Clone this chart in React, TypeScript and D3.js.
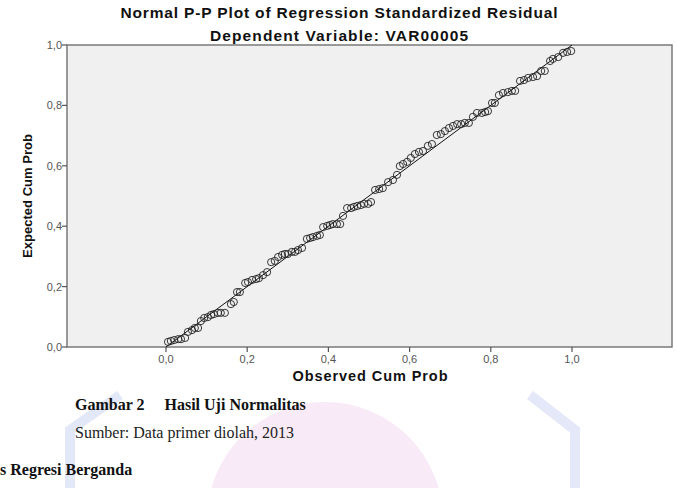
import { scaleLinear } from 'd3';

const observed = [
  0.005, 0.012, 0.02, 0.03, 0.037, 0.047, 0.054, 0.064, 0.071, 0.079,
  0.086, 0.094, 0.103, 0.111, 0.118, 0.128, 0.135, 0.145, 0.16, 0.167,
  0.175, 0.182, 0.195, 0.202, 0.212, 0.222, 0.229, 0.239, 0.249, 0.259,
  0.268, 0.276, 0.286, 0.293, 0.3, 0.31, 0.318, 0.325, 0.335, 0.347,
  0.355, 0.362, 0.372, 0.379, 0.387, 0.397, 0.404, 0.411, 0.421, 0.429,
  0.436, 0.446, 0.456, 0.463, 0.471, 0.48, 0.488, 0.498, 0.505, 0.515,
  0.525, 0.534, 0.547, 0.559, 0.569, 0.576, 0.584, 0.594, 0.603, 0.613,
  0.623, 0.633, 0.645, 0.655, 0.667, 0.677, 0.687, 0.697, 0.707, 0.717,
  0.727, 0.736, 0.746, 0.756, 0.766, 0.778, 0.786, 0.793, 0.803, 0.81,
  0.82, 0.83, 0.842, 0.852, 0.86, 0.872, 0.882, 0.892, 0.904, 0.914,
  0.924, 0.933, 0.946, 0.953, 0.966, 0.978, 0.988, 0.998,
];
const expected = [
  0.017, 0.02, 0.023, 0.026, 0.026, 0.03, 0.05, 0.056, 0.063, 0.063,
  0.086, 0.096, 0.099, 0.106, 0.109, 0.113, 0.113, 0.113, 0.142, 0.149,
  0.182, 0.182, 0.212, 0.215, 0.222, 0.225, 0.228, 0.238, 0.248, 0.281,
  0.285, 0.298, 0.305, 0.308, 0.308, 0.315, 0.315, 0.321, 0.328, 0.358,
  0.361, 0.364, 0.368, 0.371, 0.397, 0.401, 0.404, 0.407, 0.407, 0.407,
  0.434, 0.46, 0.46, 0.464, 0.467, 0.47, 0.474, 0.474, 0.48, 0.52,
  0.523, 0.526, 0.546, 0.553, 0.57, 0.599, 0.606, 0.613, 0.626, 0.639,
  0.646, 0.649, 0.666, 0.672, 0.702, 0.705, 0.715, 0.725, 0.732, 0.738,
  0.738, 0.742, 0.742, 0.762, 0.775, 0.775, 0.778, 0.781, 0.808, 0.808,
  0.834, 0.841, 0.844, 0.848, 0.848, 0.881, 0.884, 0.891, 0.894, 0.897,
  0.914, 0.914, 0.947, 0.954, 0.96, 0.974, 0.977, 0.98,
];
const tickValues = [0, 0.2, 0.4, 0.6, 0.8, 1.0];
const fmt = (v: number) => v.toFixed(1).replace('.', ',');

const sans = '"Liberation Sans", Arial, sans-serif';
const serif = '"Liberation Serif", "Times New Roman", serif';

export default function App() {
  const W = 677;
  const H = 488;
  const plot = { left: 67, right: 672, top: 45, bottom: 347 };

  const x = scaleLinear().domain([0, 1]).range([166, 572]);
  const y = scaleLinear().domain([0, 1]).range([plot.bottom, plot.top]);

  const points = observed.map((o, i) => ({ o, e: expected[i] }));

  return (
    <svg
      width={W}
      height={H}
      style={{ position: 'absolute', left: 0, top: 0, background: '#fff' }}
    >
      {/* faint watermark behind the caption */}
      <g opacity={0.5}>
        <circle cx={325} cy={520} r={118} fill="#f3d6ee" />
        <path
          d="M70,488 L70,430 L120,395 M530,395 L575,430 L575,488"
          fill="none"
          stroke="#c9d2f2"
          strokeWidth={10}
        />
      </g>

      {/* titles */}
      <text x={339} y={18} textAnchor="middle" fontFamily={sans} fontWeight="bold"
        fontSize={15.5} textLength={437} lengthAdjust="spacing" fill="#111">
        Normal P-P Plot of Regression Standardized Residual
      </text>
      <text x={339} y={41} textAnchor="middle" fontFamily={sans} fontWeight="bold"
        fontSize={15.5} textLength={258} lengthAdjust="spacing" fill="#111">
        Dependent Variable: VAR00005
      </text>

      {/* plot frame */}
      <rect x={plot.left} y={plot.top} width={plot.right - plot.left}
        height={plot.bottom - plot.top} fill="#f0f0f0" stroke="#7a7a7a" strokeWidth={1.5} />

      {/* y axis ticks */}
      {tickValues.map((t) => (
        <g key={'y' + t}>
          <line x1={plot.left - 5} x2={plot.left} y1={y(t)} y2={y(t)} stroke="#555" strokeWidth={1.2} />
          <text x={plot.left - 5} y={y(t) + 4} textAnchor="end" fontFamily={sans}
            fontSize={11} fill="#555">{fmt(t)}</text>
        </g>
      ))}

      {/* x axis ticks */}
      {tickValues.map((t) => (
        <g key={'x' + t}>
          <line x1={x(t)} x2={x(t)} y1={plot.bottom} y2={plot.bottom + 5} stroke="#555" strokeWidth={1.2} />
          <text x={x(t)} y={plot.bottom + 16} textAnchor="middle" fontFamily={sans}
            fontSize={11} fill="#555">{fmt(t)}</text>
        </g>
      ))}

      {/* axis titles */}
      <text x={370} y={381} textAnchor="middle" fontFamily={sans} fontWeight="bold"
        fontSize={14.5} textLength={155} lengthAdjust="spacing" fill="#111">
        Observed Cum Prob
      </text>
      <text transform={`translate(32,${(plot.top + plot.bottom) / 2}) rotate(-90)`}
        textAnchor="middle" fontFamily={sans} fontWeight="bold" fontSize={13.5}
        textLength={124} lengthAdjust="spacingAndGlyphs" fill="#111">
        Expected Cum Prob
      </text>

      {/* reference line */}
      <line x1={x(0)} y1={y(0)} x2={x(1)} y2={y(1)} stroke="#111" strokeWidth={1} />

      {/* points */}
      {points.map((d, i) => (
        <circle key={i} cx={x(d.o)} cy={y(d.e)} r={3.6} fill="none" stroke="#222" strokeWidth={0.9} />
      ))}

      {/* caption */}
      <text x={75} y={410} fontFamily={serif} fontWeight="bold" fontSize={16} fill="#111">
        Gambar 2{'\u00a0\u00a0\u00a0\u00a0\u00a0'}Hasil Uji Normalitas
      </text>
      <text x={75} y={438} fontFamily={serif} fontSize={16} fill="#222">
        Sumber: Data primer diolah, 2013
      </text>
      <text x={0} y={475} fontFamily={serif} fontWeight="bold" fontSize={16} fill="#111">
        s Regresi Berganda
      </text>
    </svg>
  );
}
